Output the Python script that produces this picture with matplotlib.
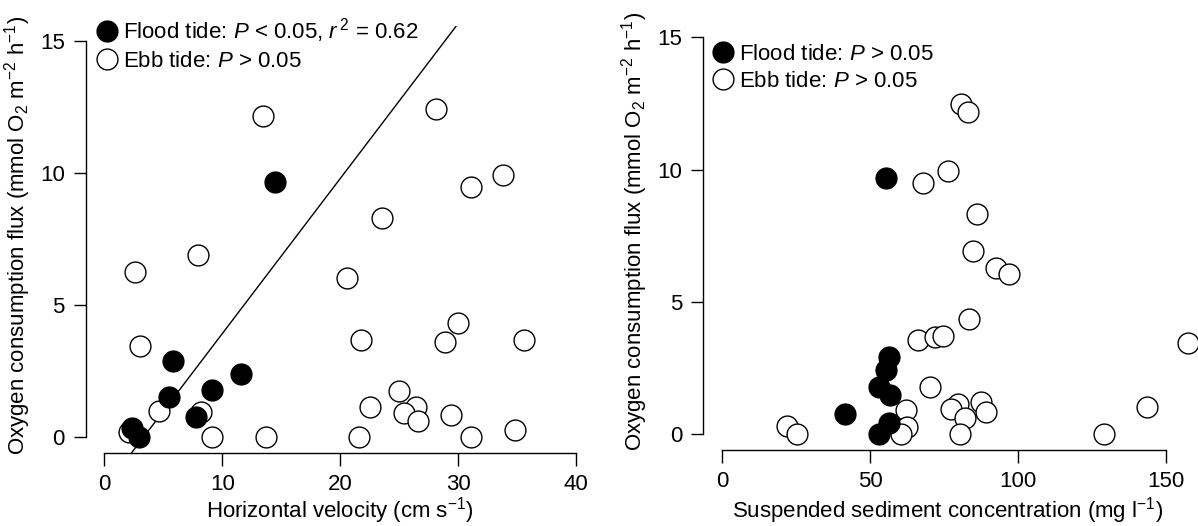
import matplotlib
matplotlib.use("Agg")
import matplotlib.pyplot as plt
from matplotlib.lines import Line2D
import numpy as np

plt.rcParams['font.family'] = ['Liberation Sans', 'DejaVu Sans']
plt.rcParams['mathtext.fontset'] = 'custom'
plt.rcParams['mathtext.rm'] = 'Liberation Sans'
plt.rcParams['mathtext.it'] = 'Liberation Sans:italic'
plt.rcParams['font.size'] = 16

# flood tide (filled) - same observations in both panels
flood_velocity = [14.43, 5.83, 11.59, 9.09, 5.44, 7.80, 2.35, 2.90]
flood_flux_v = [9.68, 2.88, 2.40, 1.79, 1.52, 0.78, 0.34, 0.00]
flood_ssc = [55.5, 56.4, 55.5, 52.9, 56.8, 41.6, 56.4, 52.9]
flood_flux_s = [9.68, 2.91, 2.43, 1.80, 1.49, 0.78, 0.41, 0.00]

# ebb tide (open) - velocity panel
ebb_velocity = [13.43, 28.16, 33.82, 31.07, 23.56, 7.93, 2.59, 20.58, 29.97,
                21.75, 28.90, 35.60, 3.04, 24.95, 22.56, 26.41, 25.37, 26.63,
                29.39, 34.82, 31.07, 21.62, 13.72, 9.16, 4.66, 8.16, 2.10]
ebb_flux_v = [12.18, 12.44, 9.95, 9.49, 8.31, 6.92, 6.25, 6.02, 4.33,
              3.69, 3.60, 3.69, 3.45, 1.77, 1.14, 1.16, 0.91, 0.61,
              0.86, 0.28, 0.00, 0.00, 0.00, 0.00, 1.01, 0.98, 0.20]

# ebb tide (open) - suspended sediment panel
ebb_ssc = [80.9, 83.0, 76.5, 67.9, 86.1, 84.8, 92.6, 97.1, 83.4, 66.1, 71.9,
           74.6, 157.5, 70.3, 79.6, 87.6, 77.4, 89.1, 82.0, 62.0, 143.5, 21.9,
           25.4, 62.6, 60.3, 80.3, 129.1]
ebb_flux_s = [12.47, 12.18, 9.96, 9.49, 8.33, 6.92, 6.27, 6.05, 4.34, 3.58, 3.67,
              3.70, 3.46, 1.80, 1.16, 1.24, 0.95, 0.85, 0.63, 0.92, 1.04, 0.32,
              0.00, 0.29, 0.00, 0.00, 0.00]

W, H = 1198, 526
fig = plt.figure(figsize=(W / 100, H / 100), dpi=100)


def px_axes(left, right, top, bottom):
    return fig.add_axes([left / W, 1 - bottom / H, (right - left) / W, (bottom - top) / H])


def style(ax, xmax, label_x):
    for s in ['top', 'right']:
        ax.spines[s].set_visible(False)
    ax.spines['left'].set_bounds(0, 15)
    ax.spines['bottom'].set_bounds(0, xmax)
    for s in ['left', 'bottom']:
        ax.spines[s].set_linewidth(1.0)
    ax.set_yticks([0, 5, 10, 15])
    ax.tick_params(axis='both', length=9, width=1.0, labelsize=16)
    ax.tick_params(axis='x', pad=6)
    ax.tick_params(axis='y', pad=6)
    ax.set_ylabel(r"Oxygen consumption flux (mmol O$_2$ m$^{-2}$ h$^{-1}$)", fontsize=16)
    ax.yaxis.set_label_coords(label_x, 0.51)


ms = 225
lw = 1.0

# left panel: velocity
ax1 = px_axes(85.5, 595, 25.5, 453.3)
ax1.set_xlim(-1.6, 41.6)
ax1.set_ylim(-0.6, 15.6)
slope, icept = np.polyfit(flood_velocity, flood_flux_v, 1)
xx = np.array([-1.6, 41.6])
ax1.plot(xx, slope * xx + icept, color='black', lw=1.0, zorder=1)
ax1.scatter(ebb_velocity, ebb_flux_v, s=ms, facecolors='white', edgecolors='black', linewidths=lw, zorder=2)
ax1.scatter(flood_velocity, flood_flux_v, s=ms, color='black', zorder=3)
ax1.set_xticks([0, 10, 20, 30, 40])
style(ax1, 40, -0.103)
ax1.set_xlabel(r"Horizontal velocity (cm s$^{-1}$)", fontsize=16, labelpad=0)

# right panel: suspended sediment
ax2 = px_axes(703.3, 1192.7, 21.5, 450.2)
ax2.set_xlim(-6.4, 159.1)
ax2.set_ylim(-0.6, 15.6)
ax2.scatter(ebb_ssc, ebb_flux_s, s=ms, facecolors='white', edgecolors='black', linewidths=lw, zorder=2, clip_on=False)
ax2.scatter(flood_ssc, flood_flux_s, s=ms, color='black', zorder=3)
ax2.set_xticks([0, 50, 100, 150])
style(ax2, 150, -0.109)
ax2.set_xlabel(r"Suspended sediment concentration (mg l$^{-1}$)", fontsize=16, labelpad=2)


def legend(ax, labels, x, y):
    h = [Line2D([], [], ls='none', marker='o', markersize=15, markerfacecolor='black', markeredgecolor='black'),
         Line2D([], [], ls='none', marker='o', markersize=15, markerfacecolor='white', markeredgecolor='black', markeredgewidth=lw)]
    ax.legend(h, labels, loc='upper left', bbox_to_anchor=(x / W, 1 - y / H), bbox_transform=fig.transFigure,
              frameon=False, borderpad=0, borderaxespad=0, handlelength=0.75, handletextpad=0.33,
              labelspacing=0.28, fontsize=16)


legend(ax1, [r"Flood tide: $\it{P}$ < 0.05, $\it{r}^{\,2}$ = 0.62", r"Ebb tide: $\it{P}$ > 0.05"], 98.7, 16)
legend(ax2, [r"Flood tide: $\it{P}$ > 0.05", r"Ebb tide: $\it{P}$ > 0.05"], 714.7, 44)

fig.savefig("out.png", dpi=100)
